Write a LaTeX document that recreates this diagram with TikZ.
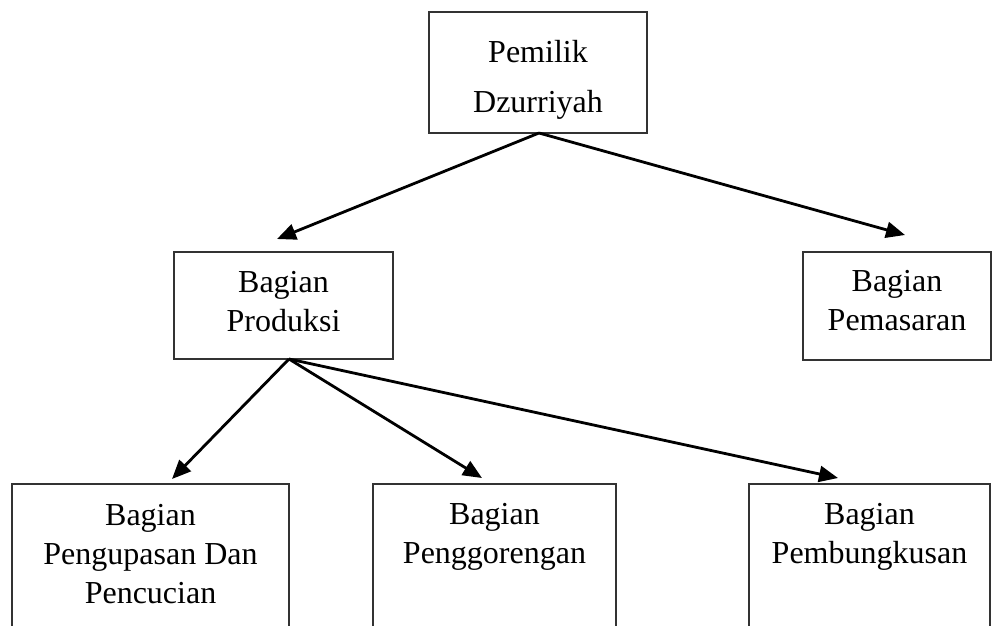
\documentclass[tikz,border=0pt]{standalone}
\usepackage{fontspec}
\setmainfont{Liberation Serif}
\usetikzlibrary{arrows.meta}
\begin{document}
\begin{tikzpicture}[x=1pt,y=-1pt,
  box/.style={draw=black!80,line width=1.1pt,rectangle,inner sep=0pt},
  lbl/.style={font=\fontsize{32}{39}\selectfont,align=center,anchor=base,inner sep=0pt},
  conn/.style={line width=2.8pt,-{Triangle[length=19pt,width=16pt]}}]
\useasboundingbox (0,0) rectangle (992,625);
\clip (0,0) rectangle (992,625);
% top
\node[box,minimum width=218pt,minimum height=121pt] (pem) at (538,72.5) {};
\node[lbl,font=\fontsize{32}{50}\selectfont] (pemT) at (538,112) {Pemilik\\Dzurriyah};
% middle
\node[box,minimum width=219pt,minimum height=107pt] (prod) at (283.5,305.5) {};
\node[lbl] (prodT) at (283.5,331) {Bagian\\Produksi};
\node[box,minimum width=188pt,minimum height=108pt] (pmsr) at (897,306) {};
\node[lbl] (pmsrT) at (897,330) {Bagian\\Pemasaran};
% bottom (open below the page edge)
\node[box,minimum width=277pt,minimum height=160pt] (b1) at (150.5,564) {};
\node[lbl] (b1T) at (150.5,603) {Bagian\\Pengupasan Dan\\Pencucian};
\node[box,minimum width=243pt,minimum height=160pt] (b2) at (494.5,564) {};
\node[lbl] (b2T) at (494.5,563) {Bagian\\Penggorengan};
\node[box,minimum width=241pt,minimum height=160pt] (b3) at (869.5,564) {};
\node[lbl] (b3T) at (869.5,563) {Bagian\\Pembungkusan};
% connector points
\coordinate (o1) at (539,133);
\coordinate (o2) at (289,359);
\coordinate (t1) at (277,239);
\coordinate (t2) at (905,235);
\coordinate (t3) at (172,479);
\coordinate (t4) at (482,478);
\coordinate (t5) at (838,478);
\draw[conn] (o1) -- (t1);
\draw[conn] (o1) -- (t2);
\draw[conn] (o2) -- (t3);
\draw[conn] (o2) -- (t4);
\draw[conn] (o2) -- (t5);
\end{tikzpicture}
\end{document}
